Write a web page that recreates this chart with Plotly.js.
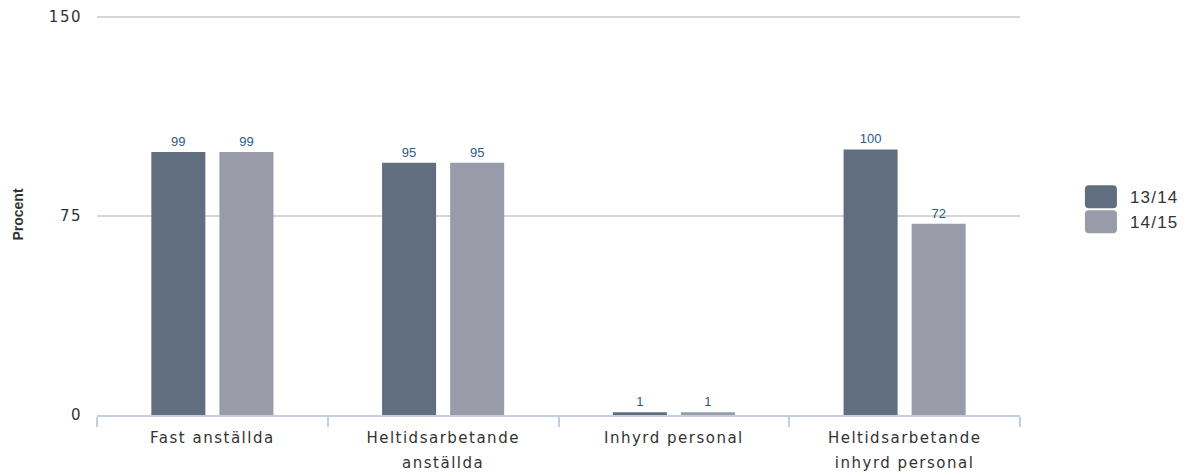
<!DOCTYPE html>
<html>
<head>
<meta charset="utf-8">
<script src="https://cdn.plot.ly/plotly-3.0.1.min.js"></script>
<style>
html,body{margin:0;padding:0;background:#fff;}
#chart{width:1189px;height:476px;}
#chart .xtick text, #chart .ytick text { letter-spacing: 1.5px; }
#chart .legendtext { letter-spacing: 1.2px; }
</style>
</head>
<body>
<div id="chart"></div>
<script>
const categories = ["Fast anställda", "Heltidsarbetande<br>anställda", "Inhyrd personal", "Heltidsarbetande<br>inhyrd personal"];
const seriesNames = ["13/14", "14/15"];
const values1314 = [99, 95, 1, 100];
const values1415 = [99, 95, 1, 72];
const yTicks = [0, 75, 150];

const colors = ["#606e80", "#999ca8"];
const labelFont = {family: "Arial, Liberation Sans, sans-serif", size: 13, color: "#2b5b84"};

const traces = [values1314, values1415].map((vals, i) => ({
  type: "bar",
  name: seriesNames[i],
  x: categories,
  y: vals,
  marker: {color: colors[i], line: {width: 0}},
  text: vals.map(String),
  textposition: "outside",
  textfont: labelFont,
  outsidetextfont: labelFont,
  cliponaxis: false,
  hoverinfo: "x+y+name"
}));

const tickFont = {family: "DejaVu Sans, sans-serif", size: 15, color: "#333"};

const layout = {
  width: 1189, height: 476,
  margin: {l: 97, r: 169, t: 14, b: 61},
  paper_bgcolor: "#fff", plot_bgcolor: "#fff",
  barmode: "group",
  bargap: 0.41,
  bargroupgap: 0.206,
  font: {family: "DejaVu Sans, sans-serif", size: 14, color: "#333"},
  xaxis: {
    showline: true, linecolor: "#c0d0e0", linewidth: 2,
    ticks: "outside", tickson: "boundaries", ticklen: 10, tickcolor: "#c0d0e0", tickwidth: 2,
    tickfont: tickFont, ticklabelstandoff: 8,
    showgrid: false, fixedrange: true
  },
  yaxis: {
    range: [0, 151], tickvals: yTicks, ticktext: yTicks.map(String),
    showgrid: true, gridcolor: "#d6d6d6", gridwidth: 2, zeroline: false,
    showline: false, ticks: "", ticklabelstandoff: 14,
    tickfont: tickFont,
    title: {text: "<b>Procent</b>", font: {family: "Arial, Liberation Sans, sans-serif", size: 14, color: "#333"}, standoff: 26},
    fixedrange: true
  },
  legend: {
    x: 1.066, xanchor: "left", y: 0.512, yanchor: "middle",
    font: {family: "Arial, Liberation Sans, sans-serif", size: 17, color: "#333"},
    tracegroupgap: 0, itemwidth: 30
  },
  showlegend: true
};

function roundRect(w, h, r) {
  const x0 = -w / 2, x1 = w / 2, y0 = -h / 2, y1 = h / 2;
  return `M${x0 + r},${y0}H${x1 - r}Q${x1},${y0} ${x1},${y0 + r}V${y1 - r}Q${x1},${y1} ${x1 - r},${y1}` +
         `H${x0 + r}Q${x0},${y1} ${x0},${y1 - r}V${y0 + r}Q${x0},${y0} ${x0 + r},${y0}Z`;
}

Plotly.newPlot("chart", traces, layout, {displayModeBar: false}).then(gd => {
  gd.querySelectorAll(".xtick text tspan.line").forEach(ts => {
    const dy = ts.getAttribute("dy");
    if (dy && parseFloat(dy) > 0) ts.setAttribute("dy", "1.65em");
  });
  gd.querySelectorAll(".legendpoints path").forEach(p => {
    p.setAttribute("d", roundRect(32, 23, 4));
  });
  gd.querySelectorAll(".legend .scrollbox").forEach(g => g.removeAttribute("clip-path"));
  gd.querySelectorAll(".legendtext").forEach(t => {
    const x = parseFloat(t.getAttribute("x") || "0");
    t.setAttribute("x", x + 9);
    t.querySelectorAll("tspan[x]").forEach(ts => ts.setAttribute("x", parseFloat(ts.getAttribute("x")) + 9));
  });
});
</script>
</body>
</html>
